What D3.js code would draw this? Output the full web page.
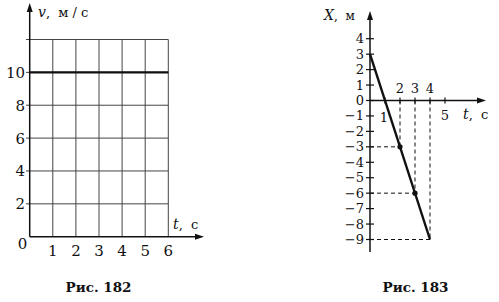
<!DOCTYPE html>
<html lang="ru">
<head>
  <meta charset="utf-8">
  <script src="https://cdn.jsdelivr.net/npm/d3@7"></script>
  <style>
    body { margin: 0; background: #fff; }
    svg text { font-family: "DejaVu Serif", serif; fill: #111; }
  </style>
</head>
<body>
  <script>
    // Рис. 182: v(t)
    var vTimes = [0, 6];
    var vValues = [10, 10];
    var vTickLabels = [2, 4, 6, 8, 10];
    var tTickLabels182 = [1, 2, 3, 4, 5, 6];

    // Рис. 183: X(t)
    var xTimes = [0, 4];
    var xValues = [3, -9];
    var dotTimes = [2, 3];
    var dotValues = [-3, -6];
    var guideTimes = [2, 3, 4];
    var guideValues = [-3, -6, -9];
    var xTickLabels = [4, 3, 2, 1, 0, -1, -2, -3, -4, -5, -6, -7, -8, -9];
    var tTicksAbove = [2, 3, 4];
    var tTicksBelow = [1, 5];

    var svg = d3.select("body").append("svg")
                .attr("width", 499)
                .attr("height", 302);

    function arrow(g, x, y, dir) {
      // filled arrow head, tip at (x, y)
      var pts = dir === "up"
        ? [[x, y], [x - 3, y + 9], [x + 3, y + 9]]
        : [[x, y], [x - 9, y - 3], [x - 9, y + 3]];
      g.append("path")
       .attr("d", d3.line()(pts) + "Z")
       .attr("fill", "#111");
    }

    // ---------- left chart ----------
    var left = svg.append("g");
    var x1 = d3.scaleLinear().domain([0, 6]).range([29.7, 168.3]);
    var y1 = d3.scaleLinear().domain([0, 12]).range([236.7, 39.5]);

    // horizontal grid
    left.selectAll(".hgrid")
        .data(d3.range(2, 13, 2))
        .enter().append("line")
        .attr("x1", 26).attr("x2", x1(6))
        .attr("y1", function (d) { return y1(d); })
        .attr("y2", function (d) { return y1(d); })
        .attr("stroke", "#444").attr("stroke-width", 1);
    // vertical grid
    left.selectAll(".vgrid")
        .data(tTickLabels182)
        .enter().append("line")
        .attr("x1", function (d) { return x1(d); })
        .attr("x2", function (d) { return x1(d); })
        .attr("y1", y1(12)).attr("y2", y1(0))
        .attr("stroke", "#444").attr("stroke-width", 1);

    // axes
    left.append("line")
        .attr("x1", x1(0)).attr("x2", x1(0))
        .attr("y1", y1(0)).attr("y2", 10)
        .attr("stroke", "#111").attr("stroke-width", 1.5);
    arrow(left, x1(0), 3, "up");
    left.append("line")
        .attr("x1", x1(0)).attr("x2", 196)
        .attr("y1", y1(0)).attr("y2", y1(0))
        .attr("stroke", "#111").attr("stroke-width", 1.5);
    arrow(left, 204, y1(0), "right");

    // data line
    left.append("path")
        .datum(d3.zip(vTimes, vValues))
        .attr("d", d3.line()
          .x(function (d) { return x1(d[0]); })
          .y(function (d) { return y1(d[1]); }))
        .attr("stroke", "#111").attr("stroke-width", 2.2).attr("fill", "none");

    left.selectAll(".ylab")
        .data(vTickLabels)
        .enter().append("text")
        .attr("x", 25)
        .attr("y", function (d) { return y1(d) + 5.5; })
        .attr("text-anchor", "end")
        .attr("font-size", 15)
        .text(function (d) { return d; });
    left.selectAll(".xlab")
        .data(tTickLabels182)
        .enter().append("text")
        .attr("x", function (d) { return x1(d); })
        .attr("y", 256)
        .attr("text-anchor", "middle")
        .attr("font-size", 15)
        .text(function (d) { return d; });
    left.append("text")
        .attr("x", 22.5).attr("y", 249)
        .attr("text-anchor", "middle")
        .attr("font-size", 15)
        .text("0");

    var vLabel = left.append("text").attr("x", 38).attr("y", 17).attr("font-size", 14);
    vLabel.append("tspan").attr("font-style", "italic").text("v");
    vLabel.append("tspan").attr("font-size", 13).attr("xml:space", "preserve")
          .style("white-space", "pre").text(",  м / с");
    var tLabel = left.append("text").attr("x", 173).attr("y", 229).attr("font-size", 14);
    tLabel.append("tspan").attr("font-style", "italic").text("t");
    tLabel.append("tspan").attr("font-size", 13)
          .style("white-space", "pre").text(",  с");

    left.append("text")
        .attr("x", 98.5).attr("y", 292)
        .attr("text-anchor", "middle")
        .attr("font-size", 13.5).attr("font-weight", "bold")
        .text("Рис. 182");

    // ---------- right chart ----------
    var right = svg.append("g");
    var x2 = d3.scaleLinear().domain([0, 5]).range([370, 445]);
    var y2 = d3.scaleLinear().domain([-9, 4]).range([239.5, 38.7]);

    // dashed guides
    var guides = d3.zip(guideTimes, guideValues);
    right.selectAll(".gv")
        .data(guides)
        .enter().append("line")
        .attr("x1", function (d) { return x2(d[0]); })
        .attr("x2", function (d) { return x2(d[0]); })
        .attr("y1", y2(0)).attr("y2", function (d) { return y2(d[1]); })
        .attr("stroke", "#111").attr("stroke-width", 1)
        .attr("stroke-dasharray", "4,3");
    right.selectAll(".gh")
        .data(guides)
        .enter().append("line")
        .attr("x1", x2(0))
        .attr("x2", function (d) { return x2(d[0]); })
        .attr("y1", function (d) { return y2(d[1]); })
        .attr("y2", function (d) { return y2(d[1]); })
        .attr("stroke", "#111").attr("stroke-width", 1)
        .attr("stroke-dasharray", "4,3");

    // axes
    right.append("line")
        .attr("x1", x2(0)).attr("x2", x2(0))
        .attr("y1", 252).attr("y2", 18)
        .attr("stroke", "#111").attr("stroke-width", 1.5);
    arrow(right, x2(0), 11, "up");
    right.append("line")
        .attr("x1", x2(0)).attr("x2", 478)
        .attr("y1", y2(0)).attr("y2", y2(0))
        .attr("stroke", "#111").attr("stroke-width", 1.5);
    arrow(right, 486, y2(0), "right");

    // ticks
    right.selectAll(".yt")
        .data(xTickLabels)
        .enter().append("line")
        .attr("x1", x2(0) - 4).attr("x2", x2(0) + 4)
        .attr("y1", function (d) { return y2(d); })
        .attr("y2", function (d) { return y2(d); })
        .attr("stroke", "#111").attr("stroke-width", 1.2);
    right.selectAll(".xt")
        .data(tTicksAbove.concat(tTicksBelow))
        .enter().append("line")
        .attr("x1", function (d) { return x2(d); })
        .attr("x2", function (d) { return x2(d); })
        .attr("y1", y2(0) - 3).attr("y2", y2(0) + 3)
        .attr("stroke", "#111").attr("stroke-width", 1.2);

    // data line and dots
    right.append("path")
        .datum(d3.zip(xTimes, xValues))
        .attr("d", d3.line()
          .x(function (d) { return x2(d[0]); })
          .y(function (d) { return y2(d[1]); }))
        .attr("stroke", "#111").attr("stroke-width", 2.4).attr("fill", "none");
    right.selectAll(".dot")
        .data(d3.zip(dotTimes, dotValues))
        .enter().append("circle")
        .attr("cx", function (d) { return x2(d[0]); })
        .attr("cy", function (d) { return y2(d[1]); })
        .attr("r", 2.6)
        .attr("fill", "#111");

    // labels
    right.selectAll(".ylab")
        .data(xTickLabels)
        .enter().append("text")
        .attr("x", 364)
        .attr("y", function (d) { return y2(d) + 4.5; })
        .attr("text-anchor", "end")
        .attr("font-size", 13)
        .text(function (d) { return d < 0 ? "\u2212" + (-d) : d; });
    right.selectAll(".xlabA")
        .data(tTicksAbove)
        .enter().append("text")
        .attr("x", function (d) { return x2(d); })
        .attr("y", 93)
        .attr("text-anchor", "middle")
        .attr("font-size", 13)
        .text(function (d) { return d; });
    right.selectAll(".xlabB")
        .data(tTicksBelow)
        .enter().append("text")
        .attr("x", function (d) { return d === 1 ? x2(d) - 1 : x2(d); })
        .attr("y", function (d) { return d === 1 ? 122 : 120; })
        .attr("text-anchor", "middle")
        .attr("font-size", 13)
        .text(function (d) { return d; });

    var xLabel = right.append("text").attr("x", 324).attr("y", 20).attr("font-size", 14);
    xLabel.append("tspan").attr("font-style", "italic").text("X");
    xLabel.append("tspan").attr("font-size", 12)
          .style("white-space", "pre").text(",  м");
    var t2Label = right.append("text").attr("x", 463).attr("y", 119).attr("font-size", 14);
    t2Label.append("tspan").attr("font-style", "italic").text("t");
    t2Label.append("tspan").attr("font-size", 13)
          .style("white-space", "pre").text(",  с");

    right.append("text")
        .attr("x", 415.5).attr("y", 292)
        .attr("text-anchor", "middle")
        .attr("font-size", 13.5).attr("font-weight", "bold")
        .text("Рис. 183");
  </script>
</body>
</html>
